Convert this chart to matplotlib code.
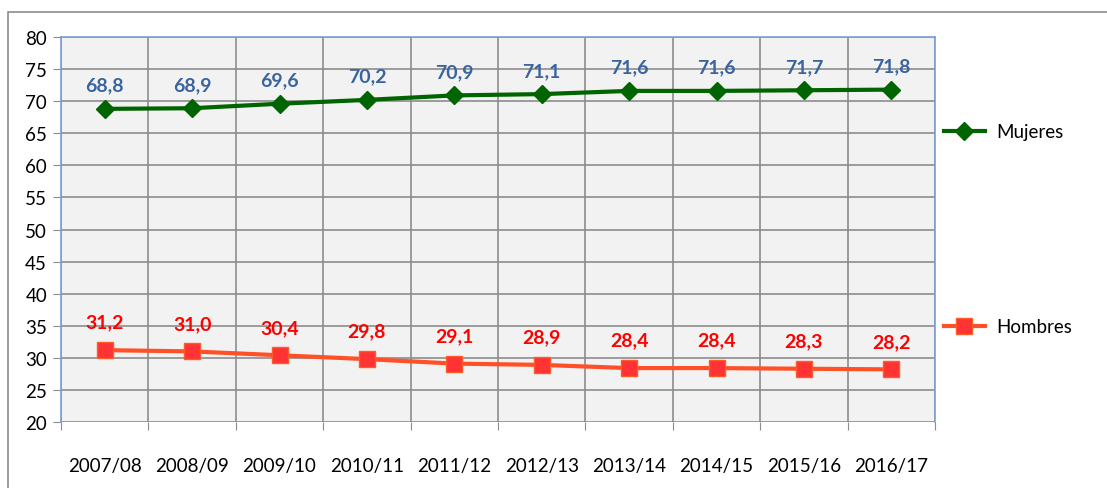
import matplotlib.pyplot as plt
from matplotlib.patches import Rectangle

cursos = ["2007/08", "2008/09", "2009/10", "2010/11", "2011/12",
          "2012/13", "2013/14", "2014/15", "2015/16", "2016/17"]
mujeres = [68.8, 68.9, 69.6, 70.2, 70.9, 71.1, 71.6, 71.6, 71.7, 71.8]
hombres = [31.2, 31.0, 30.4, 29.8, 29.1, 28.9, 28.4, 28.4, 28.3, 28.2]

plt.rcParams['font.family'] = ['Lato', 'DejaVu Sans']

fig = plt.figure(figsize=(11.07, 4.89), dpi=100)
W, H = 1107, 489
ax = fig.add_axes((61 / W, 1 - 423 / H, (935 - 61) / W, (423 - 38) / H))

# outer frame of the chart area
fig.patches.append(Rectangle((8 / W, -0.1), 1.2, 1 - 13 / H + 0.1,
                             transform=fig.transFigure, fill=False,
                             edgecolor="#8c8c8c", linewidth=1.2))

x = range(len(cursos))
ax.set_facecolor("#f2f2f2")
ax.set_xlim(-0.5, len(cursos) - 0.5)
ax.set_ylim(20, 80)
ax.set_yticks(range(20, 81, 5))
ax.set_xticks([i - 0.5 for i in range(len(cursos) + 1)], minor=False)
ax.set_xticklabels([])
ax.set_xticks(list(x), minor=True)
ax.set_xticklabels(cursos, minor=True)
ax.tick_params(axis="x", which="minor", length=0, pad=25, labelsize=13.5)
ax.tick_params(axis="x", which="major", length=6, color="#8c8c8c", direction="out")
ax.tick_params(axis="y", length=6, color="#8c8c8c", labelsize=13.5, pad=4)
ax.grid(True, which="major", color="#8c8c8c", linewidth=1.2)
ax.set_axisbelow(True)
for s in ["top", "right", "left"]:
    ax.spines[s].set_color("#7aa0d4")
    ax.spines[s].set_linewidth(1.2)
ax.spines["bottom"].set_visible(False)

ax.plot(x, mujeres, color="#006400", linewidth=3, marker="D", markersize=9,
        markerfacecolor="#006400", markeredgecolor="#006400", label="Mujeres",
        clip_on=False)
ax.plot(x, hombres, color="#ff5027", linewidth=3, marker="s", markersize=11,
        markerfacecolor="#ff3333", markeredgecolor="#ff5a28", label="Hombres",
        clip_on=False)

for i, v in enumerate(mujeres):
    ax.annotate(f"{v:.1f}".replace(".", ","), (i, v), xytext=(0, 11),
                textcoords="offset points", ha="center", va="bottom",
                color="#3a64a0", fontsize=14, fontweight="bold")
for i, v in enumerate(hombres):
    ax.annotate(f"{v:.1f}".replace(".", ","), (i, v), xytext=(0, 14),
                textcoords="offset points", ha="center", va="bottom",
                color="#ff0000", fontsize=14, fontweight="bold")

ax.legend(loc="upper left", bbox_to_anchor=(0.995, 0.81), frameon=False,
          fontsize=13.5, labelspacing=9.5, handlelength=2.2,
          handletextpad=0.6, borderaxespad=0.3)

fig.savefig("out.png", dpi=100)
